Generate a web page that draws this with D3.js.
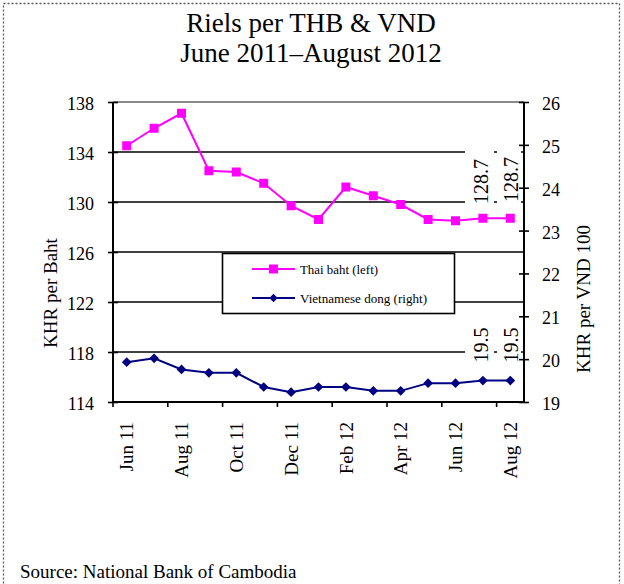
<!DOCTYPE html>
<html><head><meta charset="utf-8">
<script src="https://cdn.jsdelivr.net/npm/d3@7"></script>
<style>
html,body{margin:0;padding:0;background:#fff;}
svg{display:block;font-family:"Liberation Serif","Times New Roman",serif;}
svg text{font-family:"Liberation Serif","Times New Roman",serif;}
</style></head>
<body><svg id="c" width="624" height="584"></svg>
<script>
const months = ["Jun 11","Jul 11","Aug 11","Sep 11","Oct 11","Nov 11","Dec 11","Jan 12","Feb 12","Mar 12","Apr 12","May 12","Jun 12","Jul 12","Aug 12"];
const thaiBaht = [134.5,135.9,137.1,132.5,132.4,131.5,129.7,128.6,131.2,130.5,129.8,128.6,128.5,128.7,128.7];
const vietDong = [19.93,20.02,19.76,19.68,19.68,19.35,19.23,19.35,19.35,19.26,19.26,19.44,19.44,19.5,19.5];
const leftTicks = [114,118,122,126,130,134,138];
const rightTicks = [19,20,21,22,23,24,25,26];
const xTickLabels = ["Jun 11","Aug 11","Oct 11","Dec 11","Feb 12","Apr 12","Jun 12","Aug 12"];
const thaiNotes = ["128.7","128.7"];
const dongNotes = ["19.5","19.5"];
const titleLines = ["Riels per THB & VND","June 2011\u2013August 2012"];
const seriesNames = ["Thai baht (left)","Vietnamese dong (right)"];

const svg = d3.select("#c");
const L = 113, R = 524, T = 102, B = 402;
const x = d3.scaleBand().domain(months).range([L,R]).padding(0);
const cx = m => x(m) + x.bandwidth()/2;
const yL = d3.scaleLinear().domain([114,138]).range([B,T]);
const yR = d3.scaleLinear().domain([19,26]).range([B,T]);

// dotted frame
svg.append("rect").attr("x",3.5).attr("y",3.5).attr("width",616).attr("height",590)
  .attr("fill","none").attr("stroke","#555").attr("stroke-width",1.3).attr("stroke-dasharray","2,2");

// title
svg.selectAll("text.title").data(titleLines).join("text").attr("class","title")
  .attr("x",311).attr("y",(d,i)=>32+i*30).attr("text-anchor","middle")
  .attr("font-size",27).attr("fill","#000").text(d=>d);

// gridlines
leftTicks.filter(v=>v>114).forEach(v=>{
  svg.append("line").attr("x1",L).attr("x2",R).attr("y1",yL(v)).attr("y2",yL(v))
    .attr("stroke", v===138 ? "#8a8a8a" : "#000").attr("stroke-width", v===138?2:1.6);
});

// annotation boxes (white) over gridlines
function notes(vals, ycs, h){
  const bl = [488, 518];
  vals.forEach((t,i)=>{
    svg.append("rect").attr("x", i===0?465:497).attr("y",ycs[i]-h/2).attr("width", i===0?29:24).attr("height",h).attr("fill","#fff");
    svg.append("text").attr("transform",`translate(${bl[i]},${ycs[i]}) rotate(-90)`)
      .attr("text-anchor","middle").attr("font-size",20).attr("fill","#000").text(t);
  });
}
notes(thaiNotes, [181.5,179.5], 64);
notes(dongNotes, [345,345], 34);

// legend
const lg = svg.append("g");
lg.append("rect").attr("x",222.5).attr("y",253.5).attr("width",232).attr("height",60)
  .attr("fill","#fff").attr("stroke","#000").attr("stroke-width",1.6);

// axes
const axL = svg.append("g").attr("transform",`translate(${L},0)`)
  .call(d3.axisLeft(yL).tickValues(leftTicks).tickSize(5).tickPadding(14).tickFormat(d3.format("d")));
axL.attr("font-family",null).attr("font-size",null);
axL.select(".domain").remove();
axL.selectAll(".tick line").attr("x1",-5).attr("x2",5).attr("stroke","#000").attr("stroke-width",1.6);
axL.selectAll(".tick text").attr("font-size",18).attr("dy","0.42em");
svg.append("line").attr("x1",L).attr("x2",L).attr("y1",T).attr("y2",B+1).attr("stroke","#000").attr("stroke-width",2);

const axR = svg.append("g").attr("transform",`translate(${R},0)`)
  .call(d3.axisRight(yR).tickValues(rightTicks).tickSize(5).tickPadding(13).tickFormat(d3.format("d")));
axR.attr("font-family",null).attr("font-size",null);
axR.select(".domain").remove();
axR.selectAll(".tick line").attr("x1",-5).attr("x2",5).attr("stroke","#000").attr("stroke-width",1.6);
axR.selectAll(".tick text").attr("font-size",18).attr("dy","0.42em");
svg.append("line").attr("x1",R).attr("x2",R).attr("y1",T).attr("y2",B+1).attr("stroke","#000").attr("stroke-width",2);

// x axis
svg.append("line").attr("x1",L).attr("x2",R).attr("y1",B).attr("y2",B).attr("stroke","#000").attr("stroke-width",2);
months.forEach((m,i)=>{
  if(i%2===0){
    svg.append("line").attr("x1",x(m)).attr("x2",x(m)).attr("y1",B).attr("y2",B+5).attr("stroke","#000").attr("stroke-width",1.6);
  }
});
svg.selectAll("text.xl").data(xTickLabels).join("text").attr("class","xl")
  .attr("transform",d=>`translate(${cx(d)},422) rotate(-90)`)
  .attr("text-anchor","end").attr("dy","0.35em").attr("font-size",19).attr("fill","#000").text(d=>d);

// axis titles
svg.append("text").attr("transform","translate(50,293) rotate(-90)").attr("text-anchor","middle")
  .attr("dy","0.35em").attr("font-size",19).text("KHR per Baht");
svg.append("text").attr("transform","translate(583,299) rotate(-90)").attr("text-anchor","middle")
  .attr("dy","0.35em").attr("font-size",19).text("KHR per VND 100");

// series
const lineL = d3.line().x((d,i)=>cx(months[i])).y(d=>yL(d));
const lineR = d3.line().x((d,i)=>cx(months[i])).y(d=>yR(d));
svg.append("path").attr("d",lineL(thaiBaht)).attr("fill","none").attr("stroke","#ff00ff").attr("stroke-width",2);
svg.selectAll("rect.tb").data(thaiBaht).join("rect").attr("class","tb")
  .attr("x",(d,i)=>cx(months[i])-4.5).attr("y",d=>yL(d)-4.5).attr("width",9).attr("height",9).attr("fill","#ff00ff");
svg.append("path").attr("d",lineR(vietDong)).attr("fill","none").attr("stroke","#000080").attr("stroke-width",2);
const diamond = d3.symbol().type(d3.symbolDiamond2).size(60);
svg.selectAll("path.vd").data(vietDong).join("path").attr("class","vd")
  .attr("transform",(d,i)=>`translate(${cx(months[i])},${yR(d)})`).attr("d",diamond()).attr("fill","#000080");

// legend items
const items = [{c:"#ff00ff",y:269,m:"sq"},{c:"#000080",y:298,m:"dm"}];
items.forEach((it,i)=>{
  lg.append("line").attr("x1",252).attr("x2",295).attr("y1",it.y).attr("y2",it.y).attr("stroke",it.c).attr("stroke-width",2);
  if(it.m==="sq") lg.append("rect").attr("x",269).attr("y",it.y-4.5).attr("width",9).attr("height",9).attr("fill",it.c);
  else lg.append("path").attr("transform",`translate(273.5,${it.y})`).attr("d",d3.symbol().type(d3.symbolDiamond2).size(45)()).attr("fill",it.c);
  lg.append("text").attr("x",300).attr("y",it.y+5).attr("font-size",13).attr("textLength", i===0?78:127)
    .attr("lengthAdjust","spacingAndGlyphs").text(seriesNames[i]);
});

// source
svg.append("text").attr("x",20).attr("y",578).attr("font-size",19).text("Source: National Bank of Cambodia");
</script></body></html>
